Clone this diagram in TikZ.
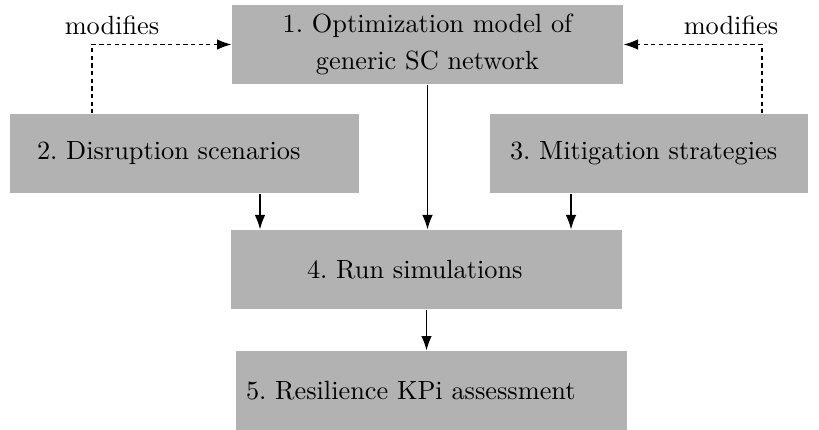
\documentclass[tikz,border=0pt]{standalone}
\usetikzlibrary{arrows.meta}
\newdimen\pxu \pxu=0.38pt
\frenchspacing
\begin{document}
\begin{tikzpicture}[x=0.38pt,y=-0.38pt,
  box/.style={fill=black!30, draw=none, inner ysep=0pt, minimum height=79\pxu, font=\normalsize},
  arr/.style={line width=0.5pt, -{Latex[length=5.5pt,width=4pt]}},
  dash arr/.style={arr, dash pattern=on 1.6pt off 1.3pt},
  lbl/.style={font=\normalsize, inner sep=0pt}]
\useasboundingbox (0,0) rectangle (819,430);
\node[box, align=center, text width=371\pxu, inner xsep=10\pxu, minimum width=391\pxu] (b1) at (427.5,44.5)
  {1. Optimization model of\\[1.8pt] generic SC network};
\node[box, align=left, text width=295\pxu, inner xsep=27\pxu, minimum width=349\pxu] (b2) at (184.5,153.5) {2. Disruption scenarios};
\node[box, align=left, text width=278\pxu, inner xsep=20\pxu, minimum width=318\pxu] (b3) at (649,153.5) {3. Mitigation strategies};
\node[box, align=left, text width=239\pxu, inner xsep=76\pxu, minimum width=391\pxu] (b4) at (426.5,269.5) {4. Run simulations};
\node[box, align=left, text width=371\pxu, inner xsep=10\pxu, minimum width=391\pxu] (b5) at (431.5,390.5) {5. Resilience KPi assessment};
\node[lbl] (l1) at (112,25) {modifies};
\node[lbl] (l2) at (731,25) {modifies};
\coordinate (m1) at (92,46);
\coordinate (m2) at (762,46);
\coordinate (xa) at (260,0);
\coordinate (xb) at (571,0);
\draw[dash arr] (b2.north -| m1) |- (b1.west);
\draw[dash arr] (b3.north -| m2) |- (b1.east);
\draw[arr] (b1.south) -- (b1.south |- b4.north);
\draw[arr] (b2.south -| xa) -- (b4.north -| xa);
\draw[arr] (b3.south -| xb) -- (b4.north -| xb);
\draw[arr] (b4.south) -- (b4.south |- b5.north);
\end{tikzpicture}
\end{document}
